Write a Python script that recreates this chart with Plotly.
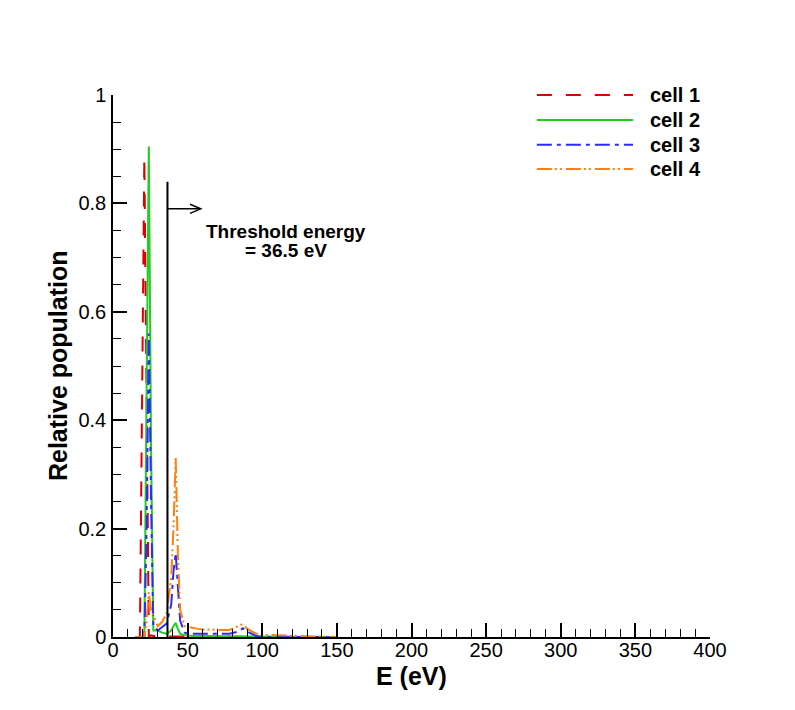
import plotly.graph_objects as go

# Energy grid (eV) shared by the four cells
energy = [15, 18, 19.5, 21, 22.5, 24, 25.5, 27, 30, 33, 36, 39, 40.5, 42, 43.5,
          45, 48, 51, 54, 57, 60, 66, 72, 78, 84, 87, 90, 96, 100, 110, 120,
          130, 140, 150]

# Relative population of each cell
cell_1 = [0, 0, 0.44, 0.886, 0.44, 0.0, 0.003, 0.002, 0.002, 0.001, 0.001,
          0.001, 0.001, 0.001, 0.001, 0.001, 0.001, 0.0, 0.0, 0.0, 0.0, 0.0,
          0.0, 0.0, 0.0, 0.0, 0.0, 0.0, 0.0, 0.0, 0.0, 0.0, 0.0, 0.0]
cell_2 = [0, 0, 0, 0, 0.45, 0.905, 0.35, 0.012, 0.012, 0.008, 0.006, 0.012,
          0.02, 0.026, 0.015, 0.006, 0.003, 0.002, 0.002, 0.002, 0.002, 0.002,
          0.002, 0.002, 0.002, 0.002, 0.002, 0.001, 0.0, 0.0, 0.0, 0.0, 0.0, 0.0]
cell_3 = [0, 0, 0, 0, 0.2, 0.56, 0.25, 0.02, 0.012, 0.018, 0.025, 0.06,
          0.12, 0.155, 0.08, 0.03, 0.008, 0.006, 0.006, 0.006, 0.006, 0.006,
          0.006, 0.006, 0.01, 0.016, 0.01, 0.002, 0.0, 0.0, 0.0, 0.0, 0.0, 0.0]
cell_4 = [0, 0, 0, 0, 0.03, 0.083, 0.05, 0.04, 0.02, 0.028, 0.045, 0.11,
          0.2, 0.33, 0.15, 0.05, 0.02, 0.018, 0.016, 0.015, 0.014, 0.013,
          0.013, 0.013, 0.02, 0.024, 0.015, 0.006, 0.004, 0.003, 0.003,
          0.002, 0.001, 0.0]

series_names = ["cell 1", "cell 2", "cell 3", "cell 4"]
series_values = [cell_1, cell_2, cell_3, cell_4]

threshold_ev = 36.5
threshold_lines = ["Threshold energy", "= 36.5 eV"]

colors = ["#dd0000", "#22cc22", "#2b2bff", "#ff8010"]
dashes = ["15px,14px", "solid", "15px,5px,4px,5px", "15px,3px,2px,3px,2px,4px"]

FONT = "Liberation Sans, Arial, Helvetica, sans-serif"

fig = go.Figure()
for name, vals, col, dash in zip(series_names, series_values, colors, dashes):
    fig.add_trace(go.Scatter(
        x=energy, y=vals, mode="lines", name=name,
        line=dict(color=col, width=2, dash=dash),
        showlegend=False,
    ))

# Threshold marker: vertical line with a right-pointing arrow
line_top = 0.84
arrow_y = 0.79
arrow_tip = threshold_ev + 22.3
fig.add_shape(type="line", xref="x", yref="y",
              x0=threshold_ev, x1=threshold_ev, y0=0, y1=line_top,
              line=dict(color="black", width=2))
fig.add_shape(type="line", xref="x", yref="y",
              x0=threshold_ev, x1=arrow_tip, y0=arrow_y, y1=arrow_y,
              line=dict(color="black", width=1.5))
fig.add_shape(type="path", xref="x", yref="y",
              path=(f"M {arrow_tip - 7.2},{arrow_y + 0.0085} "
                    f"L {arrow_tip},{arrow_y} "
                    f"L {arrow_tip - 7.2},{arrow_y - 0.0085}"),
              line=dict(color="black", width=1.5))
for text, ty in zip(threshold_lines, [0.748, 0.714]):
    fig.add_annotation(x=115.6, y=ty, xref="x", yref="y",
                       text=f"<b>{text}</b>",
                       showarrow=False, xanchor="center", yanchor="middle",
                       font=dict(family=FONT, size=19, color="black"))

# Legend drawn as line samples with labels in the upper right
legend_x0, legend_x1, legend_tx = 0.710, 0.871, 0.896
legend_rows = [1.0, 0.954, 0.908, 0.8635]
for name, col, dash, ly in zip(series_names, colors, dashes, legend_rows):
    fig.add_shape(type="line", xref="paper", yref="paper",
                  x0=legend_x0, x1=legend_x1, y0=ly, y1=ly,
                  line=dict(color=col, width=2, dash=dash))
    fig.add_annotation(x=legend_tx, y=ly, xref="paper", yref="paper",
                       text=f"<b>{name}</b>", showarrow=False,
                       xanchor="left", yanchor="middle",
                       font=dict(family=FONT, size=20, color="black"))

# Axis titles
fig.add_annotation(x=0.5, y=-0.072, xref="paper", yref="paper",
                   text="<b>E (eV)</b>", showarrow=False,
                   xanchor="center", yanchor="middle",
                   font=dict(family=FONT, size=25, color="black"))
fig.add_annotation(x=-0.092, y=0.5, xref="paper", yref="paper",
                   text="<b>Relative population</b>", showarrow=False,
                   textangle=-90, xanchor="center", yanchor="middle",
                   font=dict(family=FONT, size=25, color="black"))

axis_common = dict(
    showgrid=False, zeroline=False, showline=True,
    linecolor="black", linewidth=1.5,
    ticks="inside", tickcolor="black", tickwidth=1.5, ticklen=14,
    tickfont=dict(family=FONT, size=20, color="black"),
)
fig.update_xaxes(range=[0, 400], tick0=0, dtick=50,
                 minor=dict(dtick=10, ticks="inside", ticklen=8,
                            tickwidth=1, tickcolor="black"),
                 ticklabelstandoff=-6,
                 **axis_common)
fig.update_yaxes(range=[0, 1], tick0=0, dtick=0.2,
                 minor=dict(dtick=0.05, ticks="inside", ticklen=8,
                            tickwidth=1, tickcolor="black"),
                 ticklabelstandoff=1,
                 **axis_common)

fig.update_layout(
    width=795, height=710,
    margin=dict(l=113, r=85, t=95, b=73, autoexpand=False),
    paper_bgcolor="white", plot_bgcolor="white",
    font=dict(family=FONT, color="black"),
    showlegend=False,
)

fig.write_html("out.html")
